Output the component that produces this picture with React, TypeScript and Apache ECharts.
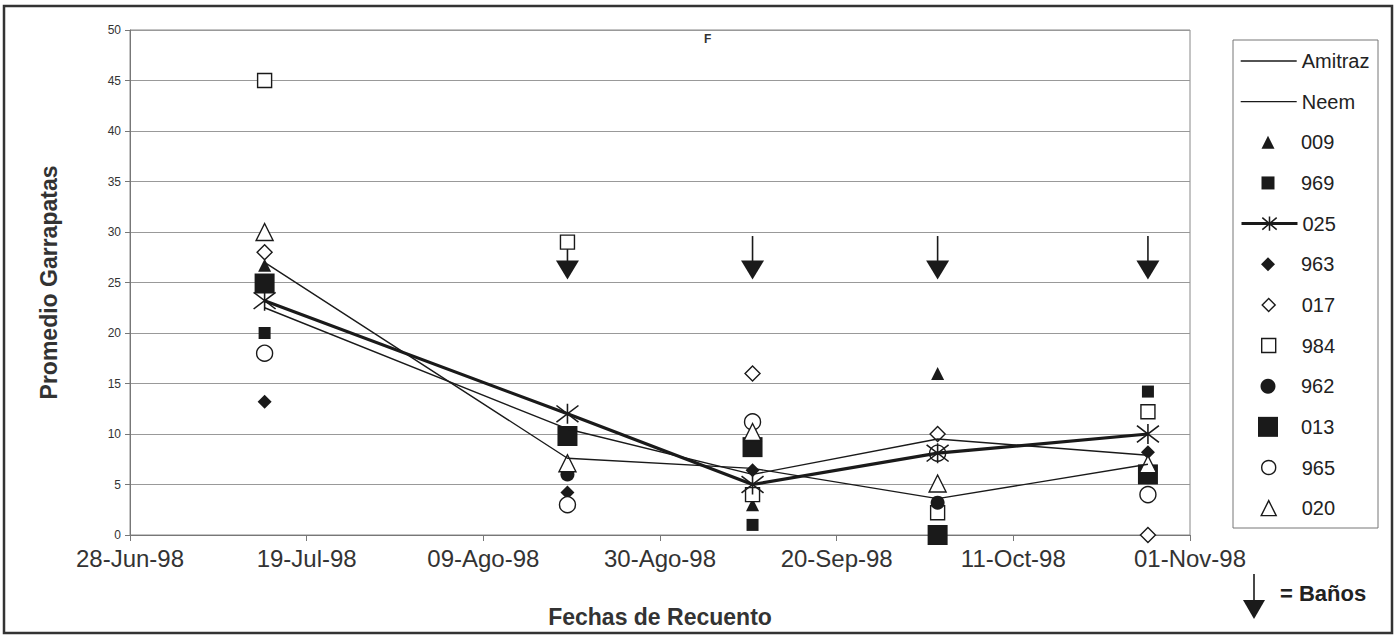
import React, { useEffect, useRef } from "react";
import * as echarts from "echarts";

const FONT = "'Liberation Sans', Arial, sans-serif";
const INK = "#1a1a1a";

// Time axis: days counted from the first tick, one tick every 21 days
const startDate = "1998-06-28";
const tickStepDays = 21;
const tickLabels = ["28-Jun-98", "19-Jul-98", "09-Ago-98", "30-Ago-98", "20-Sep-98", "11-Oct-98", "01-Nov-98"];

// Count dates
const countDates = ["1998-07-14", "1998-08-19", "1998-09-10", "1998-10-02", "1998-10-27"];

// Treatment means
const amitraz = [27, 7.6, 6.6, 3.6, 7.0];
const neem = [22.5, 10.5, 6.0, 9.5, 7.9];

// Individual animals (null = no count shown)
const a009 = [26.7, null, 3, 16, null];
const a969 = [20, null, 1, null, 14.2];
const a025 = [23.2, 12, 5, 8.1, 10];
const a963 = [13.2, 4.2, 6.4, null, 8.2];
const a017 = [28, null, 16, 10, 0];
const a984 = [45, 29, 4, 2.2, 12.2];
const a962 = [null, 6, null, 3.2, null];
const a013 = [24.9, 9.8, 8.7, 0, 6];
const a965 = [18, 3, 11.2, 8.1, 4];
const a020 = [30, 7.1, 10.2, 5.1, 7];

// Dipping dates (Baños): arrow from / to
const bathDates = ["1998-08-19", "1998-09-10", "1998-10-02", "1998-10-27"];
const bathFrom = [29, 29.6, 29.6, 29.6];
const bathTo = [25.3, 25.3, 25.3, 25.3];

const legendOrder = ["Amitraz", "Neem", "009", "969", "025", "963", "017", "984", "962", "013", "965", "020"];

const dayOf = (iso: string) => Math.round((Date.parse(iso) - Date.parse(startDate)) / 86400000);
const points = (vals: (number | null)[]) =>
  countDates
    .map((d, i) => [dayOf(d), vals[i]] as [number, number | null])
    .filter((p) => p[1] !== null);

const ASTERISK = "path://M0,1L12,11M12,1L0,11M6,0L6,12";

type MarkerDef = {
  name: string;
  values: (number | null)[];
  symbol: string;
  size: number;
  legendSize: number;
  open: boolean;
};

const markerDefs: MarkerDef[] = [
  { name: "009", values: a009, symbol: "triangle", size: 13, legendSize: 13, open: false },
  { name: "969", values: a969, symbol: "rect", size: 12, legendSize: 13, open: false },
  { name: "963", values: a963, symbol: "diamond", size: 14, legendSize: 14, open: false },
  { name: "017", values: a017, symbol: "diamond", size: 15, legendSize: 13, open: true },
  { name: "984", values: a984, symbol: "rect", size: 14, legendSize: 14, open: true },
  { name: "962", values: a962, symbol: "circle", size: 14, legendSize: 15, open: false },
  { name: "013", values: a013, symbol: "rect", size: 20, legendSize: 20, open: false },
  { name: "965", values: a965, symbol: "circle", size: 16, legendSize: 14, open: true },
  { name: "020", values: a020, symbol: "triangle", size: 17, legendSize: 15, open: true },
];

// Legend geometry: icon column centred at LEGEND_ICON_CX, labels start at LEGEND_TEXT_X
const LEGEND_LINE_LEFT = 1240;
const LEGEND_LINE_W = 56;
const LEGEND_ICON_CX = 1268;
const LEGEND_TEXT_X = 1301;

function buildOption(): echarts.EChartsOption {
  const seriesByName: Record<string, any> = {};

  seriesByName["Amitraz"] = {
    type: "line",
    name: "Amitraz",
    data: points(amitraz),
    symbol: "none",
    lineStyle: { color: INK, width: 1.4 },
    itemStyle: { color: INK },
  };
  seriesByName["Neem"] = {
    type: "line",
    name: "Neem",
    data: points(neem),
    symbol: "none",
    lineStyle: { color: INK, width: 1.4 },
    itemStyle: { color: INK },
  };
  seriesByName["025"] = {
    type: "line",
    name: "025",
    data: points(a025),
    symbol: ASTERISK,
    symbolSize: [22, 20],
    lineStyle: { color: INK, width: 3.2 },
    itemStyle: { color: INK, borderColor: INK, borderWidth: 1.5, opacity: 1 },
  };
  markerDefs.forEach((m) => {
    seriesByName[m.name] = {
      type: "scatter",
      name: m.name,
      data: points(m.values),
      symbol: m.symbol,
      symbolSize: m.size,
      itemStyle: m.open
        ? { color: "#ffffff", borderColor: INK, borderWidth: 1.4, opacity: 1 }
        : { color: INK, borderWidth: 0, opacity: 1 },
    };
  });

  const bathSeries = {
    type: "custom",
    name: "Baños",
    data: bathDates.map((d, i) => [dayOf(d), bathFrom[i], bathTo[i]]),
    encode: { x: 0, y: [1, 2] },
    renderItem: (_params: any, api: any) => {
      const x = api.value(0);
      const top = api.coord([x, api.value(1)]);
      const tip = api.coord([x, api.value(2)]);
      const headH = 19;
      const headW = 11.5;
      return {
        type: "group",
        children: [
          {
            type: "line",
            shape: { x1: top[0], y1: top[1], x2: tip[0], y2: tip[1] - headH + 1 },
            style: { stroke: INK, lineWidth: 1.6 },
          },
          {
            type: "polygon",
            shape: {
              points: [
                [tip[0] - headW, tip[1] - headH],
                [tip[0] + headW, tip[1] - headH],
                [tip[0], tip[1]],
              ],
            },
            style: { fill: INK },
          },
        ],
      };
    },
  };

  const legendSizes: Record<string, number> = {};
  markerDefs.forEach((m) => (legendSizes[m.name] = m.legendSize));
  const openNames = new Set(markerDefs.filter((m) => m.open).map((m) => m.name));
  const lineNames = new Set(["Amitraz", "Neem", "025"]);

  const legends = legendOrder.map((name, i) => {
    const cy = 61 + 40.65 * i;
    const isLine = lineNames.has(name);
    const w = isLine ? LEGEND_LINE_W : legendSizes[name];
    const h = isLine ? (name === "025" ? 18 : 14) : legendSizes[name];
    const left = isLine ? LEGEND_LINE_LEFT : LEGEND_ICON_CX - w / 2;
    const textPad = Math.max(0, LEGEND_TEXT_X - (left + w + 5));
    const base: any = {
      show: true,
      data: [name],
      orient: "vertical",
      left,
      top: cy - 12,
      itemWidth: w,
      itemHeight: h,
      itemGap: 0,
      padding: 0,
      selectedMode: false,
      textStyle: {
        fontFamily: FONT,
        fontSize: 20,
        color: "#222",
        lineHeight: 24,
        padding: [0, 0, 0, textPad],
      },
    };
    if (name === "Amitraz" || name === "Neem") {
      base.itemStyle = { color: "rgba(0,0,0,0)", borderColor: "rgba(0,0,0,0)", borderWidth: 0 };
      base.lineStyle = { width: 1.4 };
    } else if (name === "025") {
      base.itemStyle = { borderWidth: 1.5 };
      base.lineStyle = { width: 3 };
    } else if (openNames.has(name)) {
      base.itemStyle = { borderWidth: 1.4, opacity: 1 };
    } else {
      base.itemStyle = { borderWidth: 0, opacity: 1 };
    }
    return base;
  });

  return {
    animation: false,
    backgroundColor: "#ffffff",
    textStyle: { fontFamily: FONT },
    title: {
      text: "F",
      left: 704,
      top: 33,
      padding: 0,
      textStyle: { fontFamily: FONT, fontSize: 12, fontWeight: "bold", color: "#333" },
    },
    grid: {
      left: 130,
      right: 206,
      top: 30,
      bottom: 107,
      show: true,
      borderColor: "#888",
      borderWidth: 1,
    },
    xAxis: {
      type: "value",
      min: 0,
      max: tickStepDays * (tickLabels.length - 1),
      interval: tickStepDays,
      name: "Fechas de Recuento",
      nameLocation: "middle",
      nameGap: 70,
      nameTextStyle: { fontFamily: FONT, fontSize: 23, fontWeight: "bold", color: "#333" },
      axisLine: { show: true, lineStyle: { color: "#777" } },
      axisTick: { show: true, length: 6, lineStyle: { color: "#777" } },
      splitLine: { show: false },
      axisLabel: {
        margin: 11,
        fontFamily: FONT,
        fontSize: 24,
        color: "#333",
        formatter: (v: number) => tickLabels[Math.round(v / tickStepDays)] ?? "",
      },
    },
    yAxis: {
      type: "value",
      min: 0,
      max: 50,
      interval: 5,
      name: "Promedio Garrapatas",
      nameLocation: "middle",
      nameGap: 70,
      nameTextStyle: { fontFamily: FONT, fontSize: 23, fontWeight: "bold", color: "#333" },
      axisLine: { show: true, lineStyle: { color: "#777" } },
      axisTick: { show: true, length: 5, lineStyle: { color: "#777" } },
      splitLine: { show: true, lineStyle: { color: "#999", width: 1 } },
      axisLabel: { margin: 9, fontFamily: FONT, fontSize: 12, color: "#333" },
    },
    legend: legends,
    graphic: [
      {
        type: "rect",
        silent: true,
        z: -10,
        shape: { x: 4, y: 6, width: 1388, height: 627 },
        style: { fill: "none", stroke: "#333", lineWidth: 2.5 },
      },
      {
        type: "rect",
        silent: true,
        shape: { x: 1233, y: 40, width: 145, height: 488 },
        style: { fill: "none", stroke: "#777", lineWidth: 1 },
      },
      {
        type: "line",
        silent: true,
        shape: { x1: 1254, y1: 574, x2: 1254, y2: 602 },
        style: { stroke: INK, lineWidth: 1.6 },
      },
      {
        type: "polygon",
        silent: true,
        shape: { points: [[1243, 600], [1265, 600], [1254, 619]] },
        style: { fill: INK },
      },
      {
        type: "text",
        silent: true,
        x: 1280,
        y: 593,
        style: {
          text: "= Baños",
          fontFamily: FONT,
          fontSize: 22,
          fontWeight: "bold",
          fill: "#222",
          verticalAlign: "middle",
        },
      },
    ],
    series: [bathSeries, ...legendOrder.map((n) => seriesByName[n])] as any,
  };
}

export default function App() {
  const ref = useRef<HTMLDivElement>(null);
  useEffect(() => {
    if (!ref.current) return;
    const chart = echarts.init(ref.current, null, { renderer: "svg" });
    chart.setOption(buildOption());
    return () => chart.dispose();
  }, []);
  return (
    <div
      ref={ref}
      style={{ position: "absolute", left: 0, top: 0, width: 1396, height: 642, background: "#fff" }}
    />
  );
}
